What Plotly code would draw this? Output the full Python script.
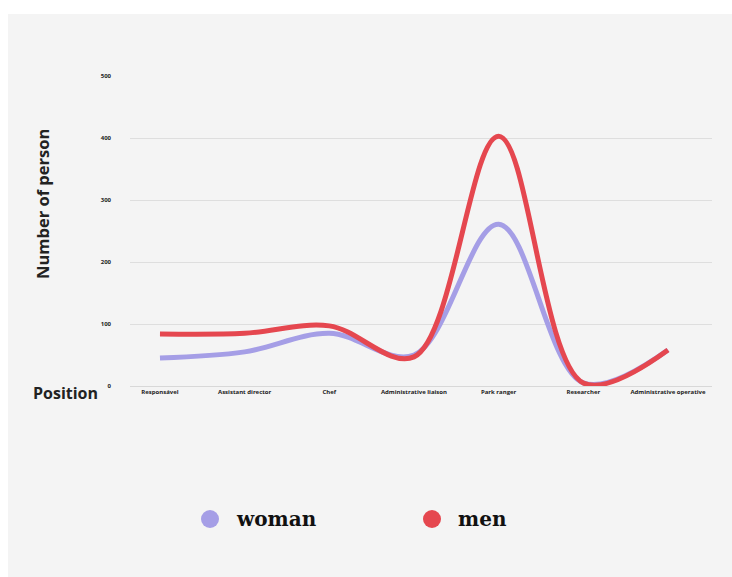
import plotly.graph_objects as go

positions = ["Responsável", "Assistant director", "Chef", "Administrative liaison",
             "Park ranger", "Researcher", "Administrative operative"]
woman = [45, 55, 85, 50, 261, 5, 58]
men = [84, 85, 97, 47, 403, 5, 58]
y_ticks = [0, 100, 200, 300, 400, 500]

W, H = 732, 577
L, R, T, B = 130, 20, 76, 191
pw, ph = W - L - R, H - T - B

def px(x):
    return (x - L) / pw

def py(y):
    return (T + ph - y) / ph

fig = go.Figure()
fig.add_trace(go.Scatter(x=positions, y=woman, mode="lines", name="woman",
                         line=dict(color="#a59ee6", width=5, shape="spline", smoothing=1.0)))
fig.add_trace(go.Scatter(x=positions, y=men, mode="lines", name="men",
                         line=dict(color="#e5474f", width=5, shape="spline", smoothing=1.0)))

shapes = [
    dict(type="rect", xref="paper", yref="paper", x0=px(-10), x1=px(760), y0=py(14), y1=py(-10),
         fillcolor="white", line=dict(width=0), layer="below"),
    dict(type="rect", xref="paper", yref="paper", x0=px(-10), x1=px(8), y0=py(600), y1=py(-10),
         fillcolor="white", line=dict(width=0), layer="below"),
    dict(type="circle", xref="paper", yref="paper", x0=px(201), x1=px(219), y0=py(528), y1=py(510),
         fillcolor="#a59ee6", line=dict(width=0)),
    dict(type="circle", xref="paper", yref="paper", x0=px(423), x1=px(441), y0=py(528), y1=py(510),
         fillcolor="#e5474f", line=dict(width=0)),
]

annotations = [
    dict(text="<b>Number of person</b>", xref="paper", yref="paper", x=px(42), y=py(204), textangle=-90,
         showarrow=False, font=dict(family="Open Sans", size=16.5, color="#222"), xanchor="center", yanchor="middle"),
    dict(text="<b>Position</b>", xref="paper", yref="paper", x=px(65), y=py(393),
         showarrow=False, font=dict(family="Open Sans", size=16, color="#222"), xanchor="center", yanchor="middle"),
    dict(text="<b>woman</b>", xref="paper", yref="paper", x=px(234), y=py(519),
         showarrow=False, font=dict(family="DejaVu Serif", size=20, color="#111"), xanchor="left", yanchor="middle"),
    dict(text="<b>men</b>", xref="paper", yref="paper", x=px(456), y=py(519),
         showarrow=False, font=dict(family="DejaVu Serif", size=20, color="#111"), xanchor="left", yanchor="middle"),
]

fig.update_layout(
    width=W, height=H, margin=dict(l=L, r=R, t=T, b=B),
    paper_bgcolor="#f4f4f4", plot_bgcolor="rgba(0,0,0,0)",
    showlegend=False, shapes=shapes, annotations=annotations,
    xaxis=dict(range=[-0.354, 6.52], showgrid=False, showline=True, linecolor="#d8d8d8",
               ticks="", tickfont=dict(family="Open Sans", size=6, color="#222", weight="bold"),
               zeroline=False),
    yaxis=dict(range=[0, 500], tickvals=y_ticks, showgrid=True, gridcolor="#dedede", gridwidth=1,
               zeroline=False, ticks="", ticklabelstandoff=18,
               tickfont=dict(family="Open Sans", size=6, color="#222", weight="bold")),
)

fig.write_html("out.html")
